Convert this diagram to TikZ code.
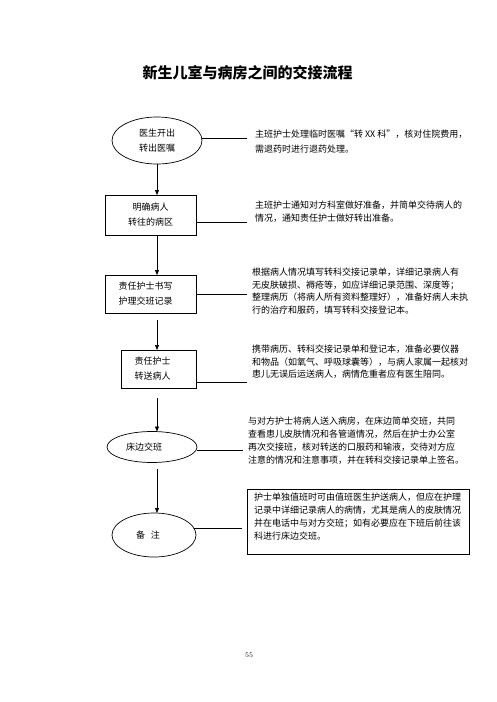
\documentclass[tikz,border=0pt]{standalone}
\usepackage{fontspec}
\newfontfamily\cjk{Noto Sans CJK SC}
\usetikzlibrary{shapes.geometric,arrows.meta}
\begin{document}
\begin{tikzpicture}[x=1pt,y=-1pt,
  ell/.style={ellipse, draw, line width=0.7pt, inner sep=0pt, outer sep=0pt,
    align=center, font=\cjk\fontsize{9}{15}\selectfont},
  boxn/.style={rectangle, draw, line width=0.9pt, inner sep=0pt, outer sep=0pt,
    align=center, font=\cjk\fontsize{9}{15}\selectfont},
  desc/.style={anchor=north west, inner sep=0pt, outer sep=0pt, align=left},
  arr/.style={-{Triangle[length=5pt,width=4pt]}, line width=0.7pt},
  link/.style={line width=0.8pt}]
\useasboundingbox (0,0) rectangle (496,702);
\fill[white] (0,0) rectangle (496,702);

\node[font=\cjk\bfseries\fontsize{15}{15}\selectfont] (title) at (247.5,73) {新生儿室与病房之间的交接流程};

% flow nodes
\node[ell, minimum width=90pt, minimum height=47pt] (e1) at (157,140.5) {医生开出\\转出医嘱};
\node[boxn, minimum width=91pt, minimum height=40pt] (b2) at (150.5,215) {明确病人\\转往的病区};
\node[boxn, minimum width=91pt, minimum height=38pt] (b3) at (150.5,294) {\hspace*{-10pt}责任护士书写\\\hspace*{-10pt}护理交班记录};
\node[boxn, minimum width=75pt, minimum height=38pt] (b4) at (158.5,369) {\hspace*{-12pt}责任护士\\\hspace*{-12pt}转送病人};
\node[ell, minimum width=90pt, minimum height=31pt] (e5) at (152,447) {\hspace*{-16pt}床边交班};
\node[ell, minimum width=84pt, minimum height=44pt] (e6) at (154,535) {\hspace*{-12pt}备\hspace{6pt}注};

% description texts
\node[desc, font=\cjk\fontsize{9}{15}\selectfont] (d1) at (255,130) {主班护士处理临时医嘱“转 XX 科”，核对住院费用，\\需退药时进行退药处理。};
\node[desc, font=\cjk\fontsize{9}{13}\selectfont] (d2) at (255,201) {主班护士通知对方科室做好准备，并简单交待病人的\\情况，通知责任护士做好转出准备。};
\node[desc, font=\cjk\fontsize{9}{12.5}\selectfont] (d3) at (252,268) {根据病人情况填写转科交接记录单，详细记录病人有\\无皮肤破损、褥疮等，如应详细记录范围、深度等；\\整理病历（将病人所有资料整理好），准备好病人未执\\行的治疗和服药，填写转科交接登记本。};
\node[desc, font=\cjk\fontsize{9}{12.5}\selectfont] (d4) at (252,345) {携带病历、转科交接记录单和登记本，准备必要仪器\\和物品（如氧气、呼吸球囊等），与病人家属一起核对\\患儿无误后运送病人，病情危重者应有医生陪同。};
\node[desc, font=\cjk\fontsize{9}{13}\selectfont] (d5) at (248,417) {与对方护士将病人送入病房，在床边简单交班，共同\\查看患儿皮肤情况和各管道情况，然后在护士办公室\\再次交接班，核对转送的口服药和输液，交待对方应\\注意的情况和注意事项，并在转科交接记录单上签名。};
\node[desc, font=\cjk\fontsize{9}{13}\selectfont] (note) at (254,493) {护士单独值班时可由值班医生护送病人，但应在护理\\记录中详细记录病人的病情，尤其是病人的皮肤情况\\并在电话中与对方交班；如有必要应在下班后前往该\\科进行床边交班。};
\draw[line width=0.9pt] (247,489) rectangle (469,554);

\node[font=\fontsize{7}{7}\selectfont] (pg) at (249,655) {55};

% line ends
\coordinate (t1) at (247,138);
\coordinate (t2) at (247,222);
\coordinate (t3) at (247,294);
\coordinate (t4) at (247,382);
\coordinate (t5) at (243,450);
\coordinate (t6) at (242,528);

\draw[link] (e1.east |- t1) -- (t1);
\draw[link] (b2.east |- t2) -- (t2);
\draw[link] (b3.east |- t3) -- (t3);
\draw[link] (b4.east |- t4) -- (t4);
\draw[link] (e5.east |- t5) -- (t5);
\draw[link] (e6.10) -- (e6.10 -| t6);

% arrows
\draw[arr] (e1.south) -- (b2.north -| e1.south);
\draw[arr] (b2.south -| e1.south) -- (b3.north -| e1.south);
\draw[arr] ([yshift=-7pt]b3.south -| e1.south) -- (b4.north -| e1.south);
\draw[arr] ([yshift=-10pt]b4.south -| e1.south) -- (e5.north -| e1.south);
\draw[arr] ([yshift=-6pt]e5.south -| e1.south) -- (e6.north -| e1.south);
\end{tikzpicture}
\end{document}
